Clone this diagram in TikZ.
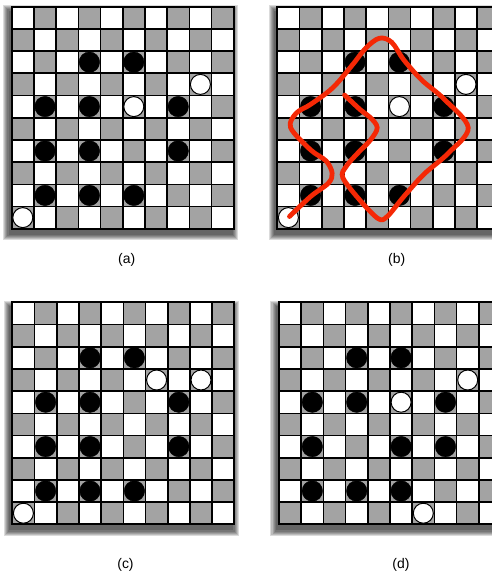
\documentclass[tikz,border=0pt]{standalone}
\usepackage{fontspec}
\setmainfont{Liberation Sans}
\definecolor{sqgray}{RGB}{163,163,163}
\definecolor{pathred}{RGB}{245,40,5}
\tikzset{
  sq/.style={fill=sqgray},
  gridln/.style={line width=1.6bp},
  bpiece/.style={circle, draw=black, fill=black, inner sep=0pt, minimum size=20.5bp},
  wpiece/.style={circle, draw=black, line width=1bp, fill=white, inner sep=0pt, minimum size=20bp},
  lbl/.style={font=\fontsize{14}{16}\selectfont},
  route/.style={pathred, line width=4.8bp, line cap=round, line join=round},
  shadowlayer/.style={black, opacity=.14, xshift=-2bp, yshift=-5bp},
  pics/board/.style={code={
    \foreach \k in {0,...,5} {
      \pgfmathsetmacro\e{(6-\k)*0.05}
      \fill[shadowlayer] (-\e,-\e) rectangle (10+\e,10+\e); }
    \fill[white] (0,0) rectangle (10,10);
    \foreach \c in {0,...,9} \foreach \r in {0,...,9} {
      \ifodd\numexpr\c+\r\relax \fill[sq] (\c,\r) rectangle ++(1,1); \fi }
    \foreach \i in {0,...,10} {
      \draw[gridln] (\i,0) -- (\i,10);
      \draw[gridln] (0,\i) -- (10,\i); }
    \draw[line width=2bp] (0,0) rectangle (10,10);
  }},
}
\begin{document}
\begin{tikzpicture}[x=1bp, y=1bp]
  \useasboundingbox (0,0) rectangle (492,-581);
  \clip (0,0) rectangle (492,-581);
  \fill[white] (0,0) rectangle (492,-581);
  % (a) start position
  \begin{scope}[shift={(11.7bp,-6.7bp)}, x=22.2bp, y=-22.2bp]
    \pic {board};
    \foreach \c/\r in {3/2,5/2,1/4,3/4,7/4,1/6,3/6,7/6,1/8,3/8,5/8}
      \node[bpiece] (a-\c-\r) at (\c+.5,\r+.5) {};
    \foreach \c/\r in {8/3,5/4,0/9}
      \node[wpiece] (a-\c-\r) at (\c+.5,\r+.5) {};
  \end{scope}
  % (b) same position with the jump route
  \begin{scope}[shift={(277.3bp,-6.7bp)}, x=22.2bp, y=-22.2bp]
    \pic {board};
    \foreach \c/\r in {3/2,5/2,1/4,3/4,7/4,1/6,3/6,7/6,1/8,3/8,5/8}
      \node[bpiece] (b-\c-\r) at (\c+.5,\r+.5) {};
    \foreach \c/\r in {8/3,5/4,0/9}
      \node[wpiece] (b-\c-\r) at (\c+.5,\r+.5) {};
    \draw[route] plot[smooth, tension=0.55] coordinates {
      (0.55,9.45) (1.5,8.55) (2.3,7.95) (2.47,7.5) (2.2,6.95) (1.5,6.45)
      (0.6,5.45) (0.85,4.8) (1.5,4.4) (2.5,3.65) (3.4,2.6) (4.0,1.85)
      (4.6,1.42) (5.15,1.6) (5.7,2.4) (6.5,3.3) (7.5,4.15) (8.6,5.45)
      (7.7,6.6) (6.6,7.55) (5.7,8.55) (4.95,9.45) (4.55,9.55) (3.75,8.75)
      (2.95,7.7) (3.1,7.2) (3.6,6.62) (4.2,6.0) (4.5,5.45) (4.2,5.0)
      (3.76,4.66) (3.03,3.98)};
  \end{scope}
  % (c)
  \begin{scope}[shift={(12.3bp,-302.3bp)}, x=22.2bp, y=-22.2bp]
    \pic {board};
    \foreach \c/\r in {3/2,5/2,1/4,3/4,7/4,1/6,3/6,7/6,1/8,3/8,5/8}
      \node[bpiece] (c-\c-\r) at (\c+.5,\r+.5) {};
    \foreach \c/\r in {6/3,8/3,0/9}
      \node[wpiece] (c-\c-\r) at (\c+.5,\r+.5) {};
  \end{scope}
  % (d)
  \begin{scope}[shift={(279bp,-302.3bp)}, x=22.2bp, y=-22.2bp]
    \pic {board};
    \foreach \c/\r in {3/2,5/2,1/4,3/4,7/4,1/6,5/6,7/6,1/8,3/8,5/8}
      \node[bpiece] (d-\c-\r) at (\c+.5,\r+.5) {};
    \foreach \c/\r in {8/3,5/4,6/9}
      \node[wpiece] (d-\c-\r) at (\c+.5,\r+.5) {};
  \end{scope}
  \node[lbl] (capa) at (126.7,-260) {(a)};
  \node[lbl] (capb) at (396.7,-260) {(b)};
  \node[lbl] (capc) at (125.5,-565) {(c)};
  \node[lbl] (capd) at (401,-565) {(d)};
\end{tikzpicture}
\end{document}
